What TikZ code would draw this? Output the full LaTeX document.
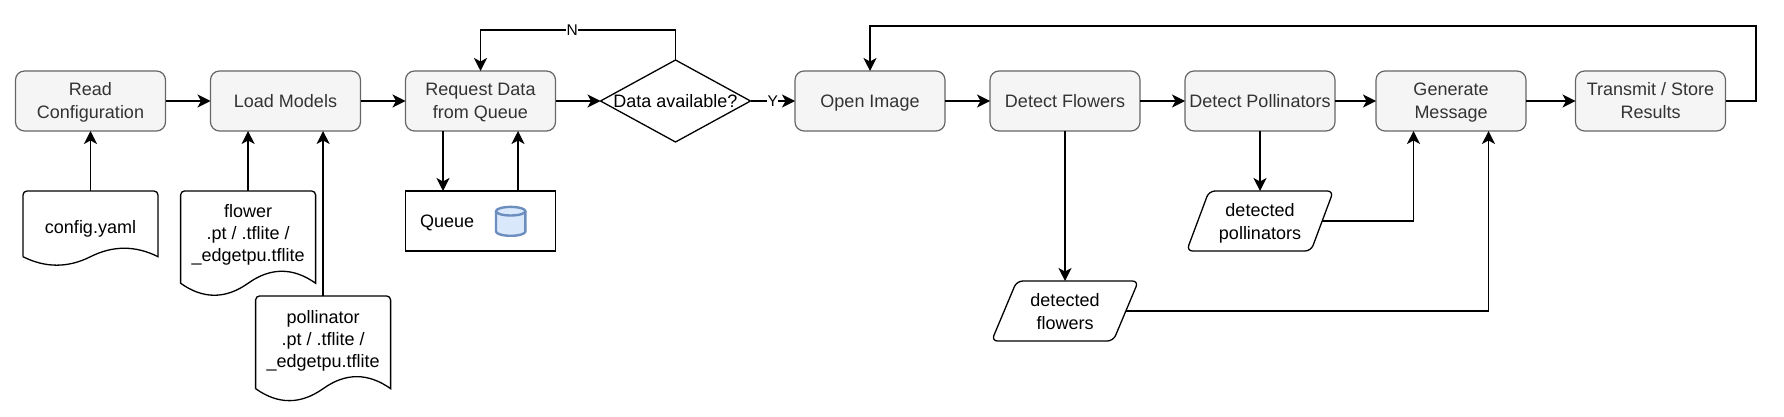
\documentclass[tikz,border=0pt]{standalone}
\usepackage{fontspec}
\setmainfont{Liberation Sans}
\usetikzlibrary{arrows.meta, calc, positioning, shapes.geometric}

\definecolor{boxfill}{HTML}{F5F5F5}
\definecolor{boxline}{HTML}{666666}
\definecolor{boxtext}{HTML}{333333}
\definecolor{dbfill}{HTML}{DAE8FC}
\definecolor{dbline}{HTML}{6C8EBF}

\tikzset{
	oneline/.style={text height=13pt, text depth=0pt},
	twoline/.style={text height=34pt, text depth=0pt},
	threeline/.style={text height=57pt, text depth=0pt},
	labelfont/.style={font=\fontsize{18}{23}\selectfont},
	process/.style={draw=boxline, fill=boxfill, text=boxtext, line width=1.2pt, rounded corners=9pt, minimum width=150pt, minimum height=60pt, inner sep=0pt, outer sep=0pt, align=center, labelfont},
	docbox/.style={minimum width=135pt, inner sep=0pt, outer sep=0pt},
	doctext/.style={font=\fontsize{18}{22}\selectfont, align=center, inner sep=0pt, outer sep=0pt},
	dataio/.style={draw, trapezium, trapezium left angle=63.4, trapezium right angle=116.6, trapezium stretches=true, rounded corners=6pt, line width=1.3pt, minimum width=147pt, minimum height=60pt, inner sep=0pt, outer sep=0pt, align=center, labelfont, text height=36pt, text depth=0pt},
	flowlabel/.style={fill=white, inner sep=0.5pt, font=\fontsize{15.5}{18}\selectfont},
}

% outline of a document node, #2 = control point of the wave
\newcommand{\docwave}[2]{
	\draw[line width=1.3pt] (#1.south west) [rounded corners=4pt] -- (#1.north west) -- (#1.north east) [sharp corners] -- (#1.south east)
		.. controls +(-22.5,-#2) and +(22.5,-#2) .. (#1.south)
		.. controls +(-22.5,#2) and +(22.5,#2) .. (#1.south west);
}

\begin{document}
\begin{tikzpicture}[x=1pt, y=-1pt, line width=1.5pt, >={Stealth[length=13pt, width=13pt, inset=3.5pt]}]
	\useasboundingbox (0,0) rectangle (1784,417);

	\node [process, twoline] (read) at (90.5,101) {Read\\Configuration};
	\node [process, oneline] (load)      [right=45pt of read]      {Load Models};
	\node [process, twoline] (request)   [right=45pt of load]      {Request Data\\from Queue};
	\node [draw, diamond, minimum width=150pt, minimum height=82pt, inner sep=0pt, outer sep=0pt, line width=1.3pt, labelfont, oneline] (decision) [right=45pt of request] {\makebox[0pt]{Data available?}};
	\node [process, oneline] (open)      [right=44.5pt of decision] {Open Image};
	\node [process, oneline] (flowers)   [right=45pt of open]      {Detect Flowers};
	\node [process, oneline] (pollinators) [right=45pt of flowers] {Detect Pollinators};
	\node [process, twoline] (generate)  [right=41pt of pollinators] {Generate\\Message};
	\node [process, twoline] (transmit)  [right=49.5pt of generate] {Transmit / Store\\Results};

	\node [docbox, minimum height=65.7pt, label={[doctext, oneline, yshift=-2.7pt]center:config.yaml}] (config) [below=60pt of read] {};
	\node [docbox, minimum height=92.3pt, label={[doctext, threeline, yshift=4.2pt]center:{flower\\.pt / .tflite /\\\_edgetpu.tflite}}] (flower) at (248.1,237.1) {};
	\node [docbox, minimum height=92.7pt, label={[doctext, threeline, yshift=3.8pt]center:{pollinator\\.pt / .tflite /\\\_edgetpu.tflite}}] (pollinator) at (323.1,342.3) {};
	\docwave{config}{11.3}
	\docwave{flower}{16}
	\docwave{pollinator}{16}

	\node [draw, line width=1.3pt, minimum width=150pt, minimum height=60pt, inner xsep=14.5pt, inner ysep=0pt, outer sep=0pt, text width=121pt, align=left, labelfont, oneline] (queue) [below=60pt of request] {Queue};
	% the small database symbol in the queue box
	\draw[dbline, fill=dbfill, line width=2.4pt] (496,211.2) -- (496,231.5) arc[start angle=180, end angle=360, x radius=14.7pt, y radius=4.3pt] -- (525.4,211.2);
	\draw[dbline, fill=dbfill, line width=2.4pt] (510.7,211.2) ellipse [x radius=14.7pt, y radius=4.3pt];

	\node [dataio] (detflowers) [below=150pt of flowers] {detected\\flowers};
	\node [dataio] (detpollinators) [below=60pt of pollinators] {detected\\pollinators};

	\draw[->] (read) -- (load);
	\draw[->] (load) -- (request);
	\draw[->] (request) -- (decision);
	\draw[->] (decision) -- node[flowlabel] {Y} (open);
	\draw[->] (open) -- (flowers);
	\draw[->] (flowers) -- (pollinators);
	\draw[->] (pollinators) -- (generate);
	\draw[->] (generate) -- (transmit);
	\draw[->] (decision.north) -- ++(0,-30) -| node[flowlabel, pos=0.265] {N} (request.north);
	\draw[->] (transmit.east) -- ++(30.4,0) -- ++(0,-75) -| (open.north);

	\draw[->] (config.north) -- (read.south);
	\draw[->] (flower.north) -- (flower.north |- load.south);
	\draw[->] (pollinator.north) -- (pollinator.north |- load.south);
	\draw[->] ($(request.south west)!.25!(request.south east)$) -- ($(queue.north west)!.25!(queue.north east)$);
	\draw[->] ($(queue.north west)!.75!(queue.north east)$) -- ($(request.south west)!.75!(request.south east)$);

	\draw[->] (flowers.south) -- (detflowers.north);
	\draw[->] (pollinators.south) -- (detpollinators.north);
	\draw[->] (detpollinators.east) -| ($(generate.south west)!.25!(generate.south east)$);
	\draw[->] (detflowers.east) -| ($(generate.south west)!.75!(generate.south east)$);
\end{tikzpicture}
\end{document}
